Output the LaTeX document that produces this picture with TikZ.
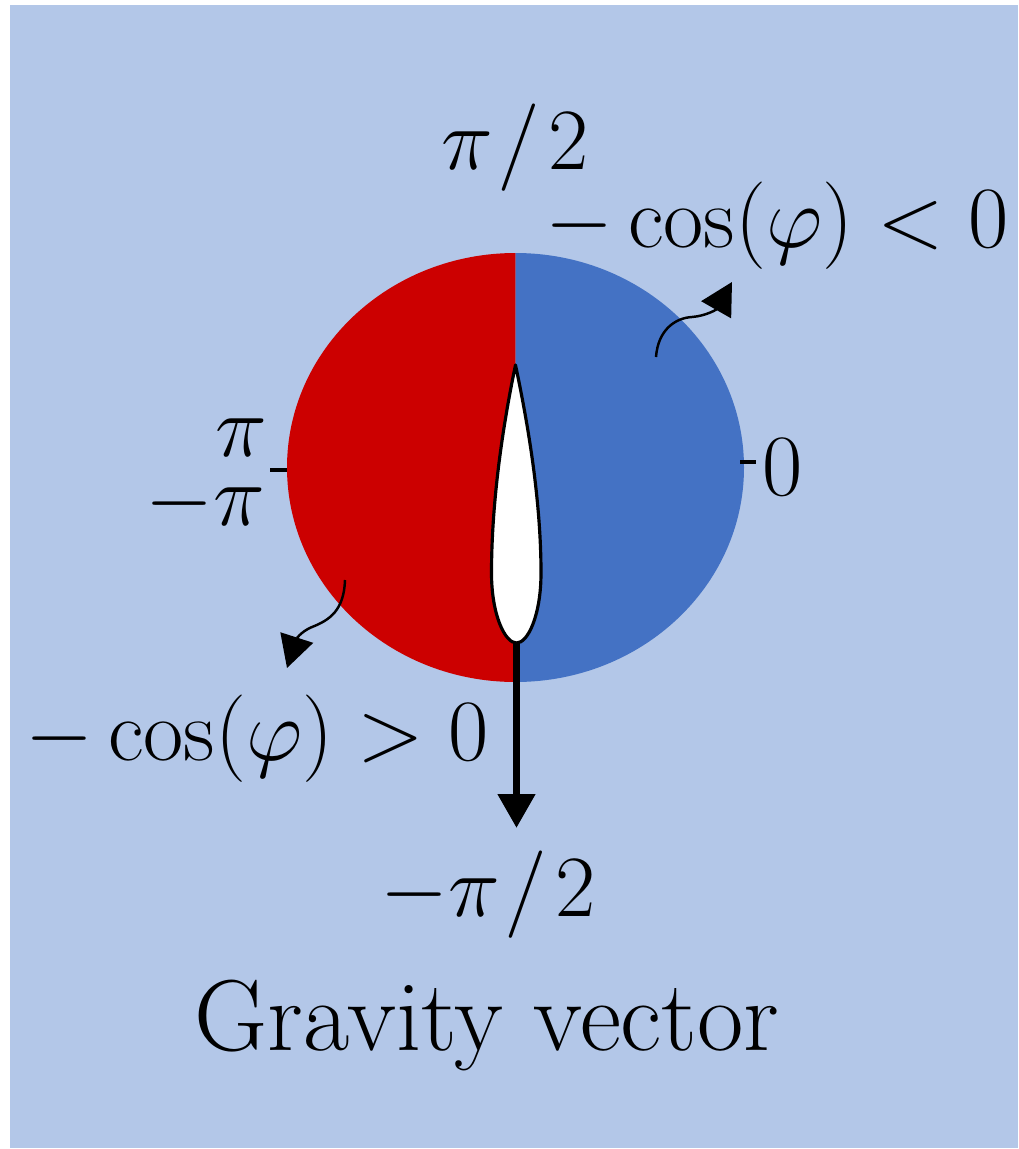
\documentclass[tikz,border=0pt]{standalone}
\usetikzlibrary{arrows.meta}
\definecolor{bgblue}{RGB}{179,199,232}
\definecolor{halfred}{RGB}{204,0,0}
\definecolor{halfblue}{RGB}{68,114,196}

\begin{document}
\begin{tikzpicture}[lbl/.style={inner sep=0pt,font=\fontsize{24.88}{30}\selectfont},
    wiggle/.style={line width=0.7pt,-{Triangle[length=0.32cm,width=0.34cm]}},
    tick/.style={line width=1.1pt}]
  % hintergrund
  \useasboundingbox (0,0) rectangle (10.18,-11.49);
  \fill[white] (0,0) rectangle (10.18,-11.49);
  \fill[bgblue] (0.10,-0.05) rectangle (10.18,-11.48);
  % kreis, zwei haelften
  \coordinate (o) at (5.155,-4.675);
  \fill[halfred] (o) ++(0,2.145) arc[start angle=90,end angle=270,x radius=2.285,y radius=2.145] -- cycle;
  \fill[halfblue] (o) ++(0,-2.145) arc[start angle=-90,end angle=90,x radius=2.285,y radius=2.145] -- cycle;
  \draw[tick] (2.70,-4.70) -- (2.87,-4.70);
  \draw[tick] (7.40,-4.62) -- (7.56,-4.62);
  % winkel
  \node[lbl,anchor=base] (top) at (5.15,-1.70) {$\pi\mkern1mu/\mkern1.6mu 2$};
  \node[lbl,anchor=base] (bot) at (4.88,-9.16) {$-\pi\mkern1mu/\mkern1.6mu 2$};
  \node[lbl,anchor=base west] (zero) at (7.62,-4.95) {$0$};
  \node[lbl,anchor=base east] (pi) at (2.68,-4.56) {$\pi$};
  \node[lbl,anchor=base east] (mpi) at (2.66,-5.25) {$-\pi$};
  \node[lbl,anchor=base,scale=1.153] (grav) at (4.87,-10.50) {Gravity vector};
  \node[lbl,anchor=base] (neg) at (7.77,-2.48) {$-\cos(\varphi)<0$};
  \node[lbl,anchor=base] (pos) at (2.57,-7.60) {$-\cos(\varphi)>0$};
  % schwerkraft
  \coordinate (tb) at (5.165,-6.43);
  \coordinate (g) at (5.165,-8.28);
  \draw[line width=2.2pt,-{Triangle[length=0.34cm,width=0.36cm]}] (tb) -- (g);
  % tropfen
  \draw[fill=white,line width=0.9pt,line join=round] (5.155,-3.65) .. controls (5.26,-4.15) and (5.41,-4.95) .. (5.41,-5.73)
    .. controls (5.41,-6.15) and (5.28,-6.43) .. (tb)
    .. controls (5.05,-6.43) and (4.915,-6.15) .. (4.915,-5.73)
    .. controls (4.915,-4.95) and (5.05,-4.15) .. cycle;
  % kleine pfeile
  \coordinate (a1) at (6.56,-3.57);
  \coordinate (a2) at (7.32,-2.82);
  \draw[wiggle] (a1) .. controls (6.58,-3.30) and (6.75,-3.18) .. (6.92,-3.17)
    .. controls (7.05,-3.16) and (7.16,-3.10) .. (a2);
  \coordinate (b1) at (3.45,-5.80);
  \coordinate (b2) at (2.87,-6.68);
  \draw[wiggle] (b1) .. controls (3.44,-6.10) and (3.30,-6.20) .. (3.12,-6.27)
    .. controls (3.00,-6.32) and (2.96,-6.40) .. (b2);
\end{tikzpicture}
\end{document}
